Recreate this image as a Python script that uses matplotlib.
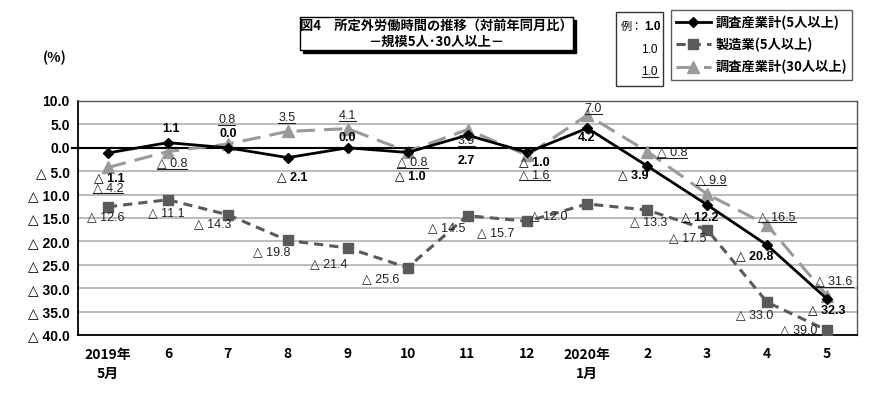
import matplotlib
matplotlib.use("Agg")
import matplotlib.pyplot as plt
from matplotlib.lines import Line2D
from matplotlib.patches import Rectangle

plt.rcParams['font.family'] = ['Noto Sans CJK JP', 'DejaVu Sans']

# ---- data ----
months = ["2019年\n5月", "6", "7", "8", "9", "10", "11", "12", "2020年\n1月", "2", "3", "4", "5"]
total5 = [-1.1, 1.1, 0.0, -2.1, 0.0, -1.0, 2.7, -1.0, 4.2, -3.9, -12.2, -20.8, -32.3]
manuf5 = [-12.6, -11.1, -14.3, -19.8, -21.4, -25.6, -14.5, -15.7, -12.0, -13.3, -17.5, -33.0, -39.0]
total30 = [-4.2, -0.8, 0.8, 3.5, 4.1, -0.8, 3.9, -1.6, 7.0, -0.8, -9.9, -16.5, -31.6]
series_names = ["調査産業計(5人以上)", "製造業(5人以上)", "調査産業計(30人以上)"]
yticks = [10, 5, 0, -5, -10, -15, -20, -25, -30, -35, -40]

# label offsets in pixels (dx, dy up-positive)
off_t5 = [(1, -25), (3, 14), (0, 14), (5, -20), (0, 10), (3, -24), (-1, -26), (7, -10), (-1, -10), (-14, -9), (-8, -12), (-12, -11), (0, -11)]
off_m5 = [(-2, -10), (-2, -13), (-15, -9), (-16, -12), (-19, -16), (-27, -12), (-21, -13), (-32, -12), (-39, -12), (1, -12), (-20, -9), (-12, -13), (-28, 0)]
off_t30 = [(0, -21), (4, -12), (-1, 24), (-1, 13), (0, 13), (5, -11), (-1, -11), (7, -20), (6, 6), (25, -1), (4, 14), (10, 8), (7, 14)]

def fmt(v):
    return f"△ {abs(v):.1f}" if v < 0 else f"{v:.1f}"

W, H = 890, 396
fig = plt.figure(figsize=(W / 100, H / 100), dpi=100)
ax = fig.add_axes([78 / W, 61 / H, 779 / W, 234 / H])

x = list(range(len(months)))
ax.set_xlim(-0.5, len(months) - 0.5)
ax.set_ylim(-40, 10)
ax.set_yticks(yticks)
ax.set_yticklabels([fmt(v) for v in yticks], fontweight='bold', fontsize=10,
                   family=['Liberation Sans', 'DejaVu Sans'])
ax.set_xticks(x)
ax.set_xticklabels(months, fontweight='bold', fontsize=10, linespacing=1.45, va='top')
ax.tick_params(length=0, pad=6)
ax.tick_params(axis='x', pad=9)
for v in yticks:
    if v != 0:
        ax.axhline(v, color='#b0b0b0', lw=1.2, zorder=1)
ax.plot([-0.6, 12.5], [0, 0], color='black', lw=1.5, clip_on=False, zorder=2)
for s in ['left', 'bottom']:
    ax.spines[s].set_color('black')
    ax.spines[s].set_linewidth(1.3)
for s in ['top', 'right']:
    ax.spines[s].set_color('#555555')
    ax.spines[s].set_linewidth(1.0)

l1, = ax.plot(x, total5, color='black', lw=2, marker='D', ms=5, zorder=5)
l2, = ax.plot(x, manuf5, color='#5a5a5a', lw=2.2, ls=(0, (3, 2)), marker='s', ms=7, zorder=4)
l3, = ax.plot(x, total30, color='#9a9a9a', lw=2.2, ls=(0, (6, 3)), marker='^', ms=8, zorder=3)

lab_font = ['Liberation Sans Narrow', 'Liberation Sans', 'DejaVu Sans']
under_texts = []
for i in x:
    ax.annotate(fmt(total5[i]), (i, total5[i]), xytext=off_t5[i], textcoords='offset pixels',
                ha='center', va='center', fontsize=9, fontweight='bold', family=lab_font, zorder=6)
    ax.annotate(fmt(manuf5[i]), (i, manuf5[i]), xytext=off_m5[i], textcoords='offset pixels',
                ha='center', va='center', fontsize=9, color='#222222', family=lab_font, zorder=6)
    t = ax.annotate(fmt(total30[i]), (i, total30[i]), xytext=off_t30[i], textcoords='offset pixels',
                    ha='center', va='center', fontsize=9, color='#222222', family=lab_font, zorder=6)
    under_texts.append(t)

# (%) label
fig.text(55 / W, 1 - 58 / H, "(%)", ha='center', va='center', fontsize=10, fontweight='bold')

# title box with shadow
fig.add_artist(Rectangle((303 / W, 1 - 53 / H), 273 / W, 33 / H, transform=fig.transFigure,
                         facecolor='black', edgecolor='black', zorder=1))
fig.add_artist(Rectangle((300 / W, 1 - 50 / H), 273 / W, 33 / H, transform=fig.transFigure,
                         facecolor='white', edgecolor='black', lw=1, zorder=2))
fig.text(436 / W, 1 - 26 / H, "図4　所定外労働時間の推移（対前年同月比）", ha='center', va='center',
         fontsize=9.5, fontweight='bold', zorder=3)
fig.text(436 / W, 1 - 42 / H, "－規模5人･30人以上－", ha='center', va='center',
         fontsize=9.5, fontweight='bold', zorder=3)

# example box
fig.add_artist(Rectangle((616 / W, 1 - 86 / H), 47 / W, 74 / H, transform=fig.transFigure,
                         facecolor='white', edgecolor='#333333', lw=1))
fig.text(643 / W, 1 - 27 / H, "例：", ha='right', va='center', fontsize=8)
fig.text(644 / W, 1 - 27 / H, "1.0", ha='left', va='center', fontsize=8.5, fontweight='bold',
         family=lab_font)
fig.text(658 / W, 1 - 50 / H, "1.0", ha='right', va='center', fontsize=8.5, family=lab_font)
ex3 = fig.text(658 / W, 1 - 72 / H, "1.0", ha='right', va='center', fontsize=8.5, family=lab_font)

# legend
leg = fig.legend([l1, l2, l3], series_names, loc='upper left', bbox_to_anchor=(671 / W, 1 - 10 / H),
                 frameon=True, fancybox=False, edgecolor='#333333',
                 handlelength=2.6, borderpad=0.4, labelspacing=0.6, handletextpad=0.35,
                 borderaxespad=0, prop={'weight': 'bold', 'size': 9.5})
leg.get_frame().set_linewidth(1)

# underline for 30+ labels
fig.canvas.draw()
r = fig.canvas.get_renderer()
for t in under_texts + [ex3]:
    bb = t.get_window_extent(r)
    y0 = bb.y0 + 1
    fig.add_artist(Line2D([bb.x0 / W, bb.x1 / W], [y0 / H, y0 / H], transform=fig.transFigure,
                          color='#222222', lw=0.8, zorder=7))

fig.savefig("out.png", dpi=100)
